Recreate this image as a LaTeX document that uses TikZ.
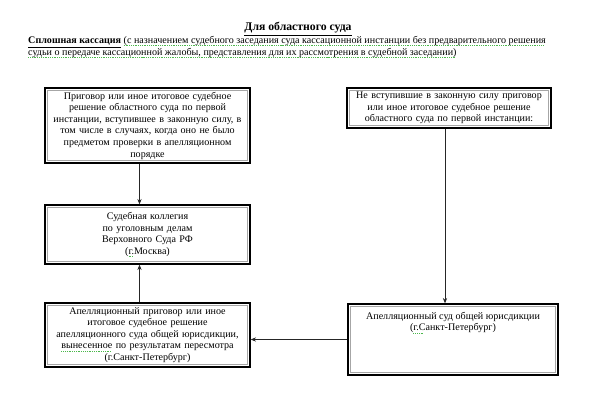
\documentclass[tikz,border=0pt]{standalone}
\usepackage{fontspec}
\setmainfont{Liberation Serif}
\usetikzlibrary{arrows.meta,calc}

\newcommand\boxfont{\fontsize{8.6pt}{9.9pt}\selectfont}
\newcommand\titlefont{\fontsize{10pt}{12pt}\selectfont\bfseries}
\newsavebox\spellbox
\newcommand\spellmark[1]{\sbox\spellbox{#1}%
  \makebox[0pt][l]{\textcolor{green!60!black!70}{\raisebox{-0.5ex}{\hbox to \wd\spellbox{\leaders\hbox{\rule{0.1em}{0.3pt}\hskip0.08em}\hfill}}}}\usebox\spellbox}

\begin{document}
\begin{tikzpicture}[x=0.03cm,y=-0.03cm,
    courtbox/.style={draw=black, line width=1.2pt, minimum width=6.15cm, inner sep=0pt,
      text width=5.8cm, align=center, font=\boxfont,
      path picture={\draw[gray!70, line width=0.5pt]
        ([shift={(2.2pt,-2.2pt)}]path picture bounding box.north west) rectangle
        ([shift={(-2.2pt,2.2pt)}]path picture bounding box.south east);}},
    link/.style={draw=black!85, line width=0.5pt, -{Stealth[length=4.5pt,width=3.6pt]}}]
    \fill[white] (0,0) rectangle (600,400);
    \useasboundingbox (0,0) rectangle (600,400);
    % heading
    \node[font=\titlefont, anchor=base] (title) at (298,31) {\underline{Для областного суда}};
    \node[font=\boxfont, align=left, anchor=north west, inner sep=0pt] (kind) at (28,36)
      {\textbf{\underline{Сплошная кассация}} \spellmark{(с назначением судебного заседания суда кассационной инстанции без предварительного решения}\\
       \spellmark{судьи о передаче кассационной жалобы, представления для их рассмотрения в судебной заседании)}};
    % left column
    \node[courtbox, minimum height=2.25cm] (verdict) at (147.5,125.5)
      {Приговор или иное итоговое судебное\\решение областного суда по первой\\инстанции, вступившее в законную силу, в\\том числе в случаях, когда оно не было\\предметом проверки в апелляционном\\порядке};
    \node[courtbox, minimum height=1.77cm] (collegium) at (147.5,234.5)
      {Судебная коллегия\\по уголовным делам\\Верховного Суда РФ\\(\spellmark{г.}Москва)};
    \node[courtbox, minimum height=1.92cm] (appverdict) at (147.5,335)
      {Апелляционный приговор или иное\\итоговое судебное решение\\апелляционного суда общей юрисдикции,\\\spellmark{вынесенное} по результатам пересмотра\\(г.Санкт-Петербург)};
    % right column
    \node[courtbox, minimum width=6.12cm, minimum height=1.2cm] (notlegal) at (449,108)
      {Не вступившие в законную силу приговор\\или иное итоговое судебное решение\\областного суда по первой инстанции:};
    \node[courtbox, minimum width=6.3cm, minimum height=2.13cm] (apcourt) at (453,339.5) {};
    \node[font=\boxfont, align=center, anchor=north, inner sep=0pt] (apcourttext)
      at ([yshift=-0.25cm]apcourt.north)
      {Апелляционный суд общей юрисдикции\\(\spellmark{г.С}анкт-Петербург)};
    % arrows
    \draw[link] ([xshift=-0.24cm]verdict.south) -- ([xshift=-0.24cm]collegium.north);
    \draw[link] ([xshift=-0.24cm]appverdict.north) -- ([xshift=-0.24cm]collegium.south);
    \draw[link] ([xshift=-0.12cm]notlegal.south) -- ([xshift=-0.12cm]notlegal.south |- apcourt.north);
    \draw[link] (apcourt.west) -- (apcourt.west -| appverdict.east);
\end{tikzpicture}
\end{document}
